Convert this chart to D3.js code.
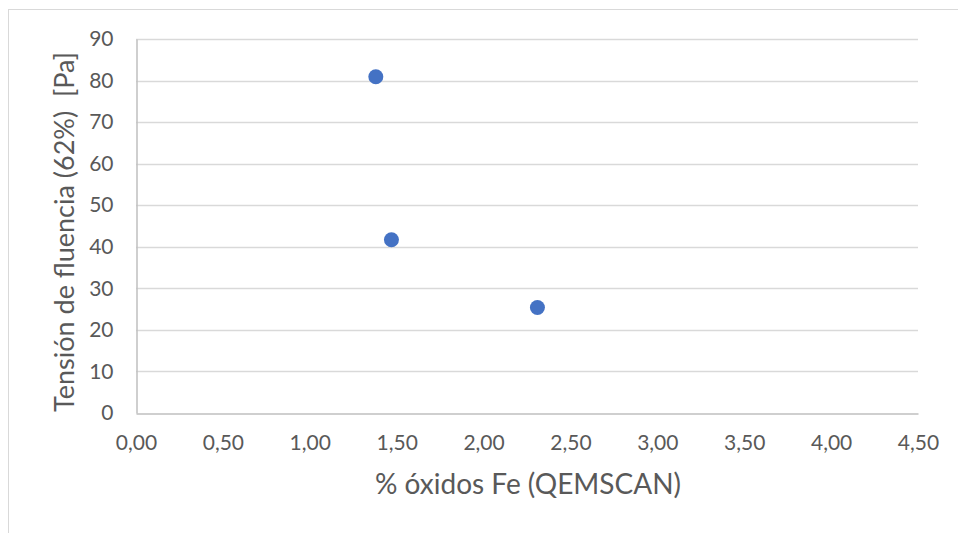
<!DOCTYPE html>
<html>
<head>
<meta charset="utf-8">
<script src="https://cdn.jsdelivr.net/npm/d3@7"></script>
<style>
  html, body { margin: 0; padding: 0; background: #fff; }
  svg { display: block; }
  text { font-family: Lato, "Open Sans", sans-serif; fill: #595959; }
</style>
</head>
<body>
<svg id="chart" width="958" height="533"></svg>
<script>
// Samples: iron oxide content (QEMSCAN) vs yield stress at 62% solids
const oxidePct = [1.38, 1.47, 2.31];
const yieldStress = [80.9, 41.7, 25.4];

const xTicks = [0, 0.5, 1, 1.5, 2, 2.5, 3, 3.5, 4, 4.5];
const yTicks = [0, 10, 20, 30, 40, 50, 60, 70, 80, 90];

const xTitle = "% óxidos Fe (QEMSCAN)";
const yTitle = "Tensión de fluencia (62%)  [Pa]";

const svg = d3.select("#chart");
const W = 958, H = 533;
const plot = { left: 136, right: 918, top: 39, bottom: 413 };

// chart frame (extends past the right and bottom edges)
svg.append("rect")
  .attr("x", 8.5).attr("y", 9.5)
  .attr("width", W + 10).attr("height", H + 10)
  .attr("fill", "#fff").attr("stroke", "#d9d9d9").attr("stroke-width", 1);

const x = d3.scaleLinear().domain([0, 4.5]).range([plot.left, plot.right]);
const y = d3.scaleLinear().domain([0, 90]).range([plot.bottom, plot.top]);

const fmt = d => d.toFixed(2).replace(".", ",");

// horizontal gridlines
svg.append("g")
  .selectAll("line")
  .data(yTicks.filter(t => t > 0))
  .join("line")
  .attr("x1", plot.left).attr("x2", plot.right)
  .attr("y1", d => Math.round(y(d)) + 0.5).attr("y2", d => Math.round(y(d)) + 0.5)
  .attr("stroke", "#d9d9d9").attr("stroke-width", 1.5);

// y axis
const yAxis = svg.append("g")
  .attr("transform", `translate(${plot.left + 0.5},0)`)
  .call(d3.axisLeft(y).tickValues(yTicks).tickSize(0).tickPadding(23).tickFormat(d3.format("d")));
yAxis.select(".domain").attr("stroke", "#bfbfbf").attr("stroke-width", 1.5);
yAxis.selectAll("text").attr("font-size", 21).attr("fill", "#595959")
  .style("font-family", "Lato, 'Open Sans', sans-serif");

// x axis
const xAxis = svg.append("g")
  .attr("transform", `translate(0,${plot.bottom + 0.5})`)
  .call(d3.axisBottom(x).tickValues(xTicks).tickSize(0).tickPadding(22).tickFormat(fmt));
xAxis.select(".domain").attr("stroke", "#bfbfbf").attr("stroke-width", 1.5);
xAxis.selectAll("text").attr("font-size", 21).attr("fill", "#595959")
  .style("font-family", "Lato, 'Open Sans', sans-serif");

// axis titles
svg.append("text")
  .attr("x", (plot.left + plot.right) / 2 + 1).attr("y", 494)
  .attr("text-anchor", "middle").attr("font-size", 28)
  .text(xTitle);

svg.append("text")
  .attr("transform", `translate(74,${(plot.top + plot.bottom) / 2 + 6}) rotate(-90)`)
  .attr("text-anchor", "middle").attr("font-size", 27)
  .style("white-space", "pre")
  .text(yTitle);

// data points
svg.append("g")
  .selectAll("circle")
  .data(oxidePct.map((v, i) => [v, yieldStress[i]]))
  .join("circle")
  .attr("cx", d => x(d[0])).attr("cy", d => y(d[1]))
  .attr("r", 7.5)
  .attr("fill", "#4472c4");
</script>
</body>
</html>
